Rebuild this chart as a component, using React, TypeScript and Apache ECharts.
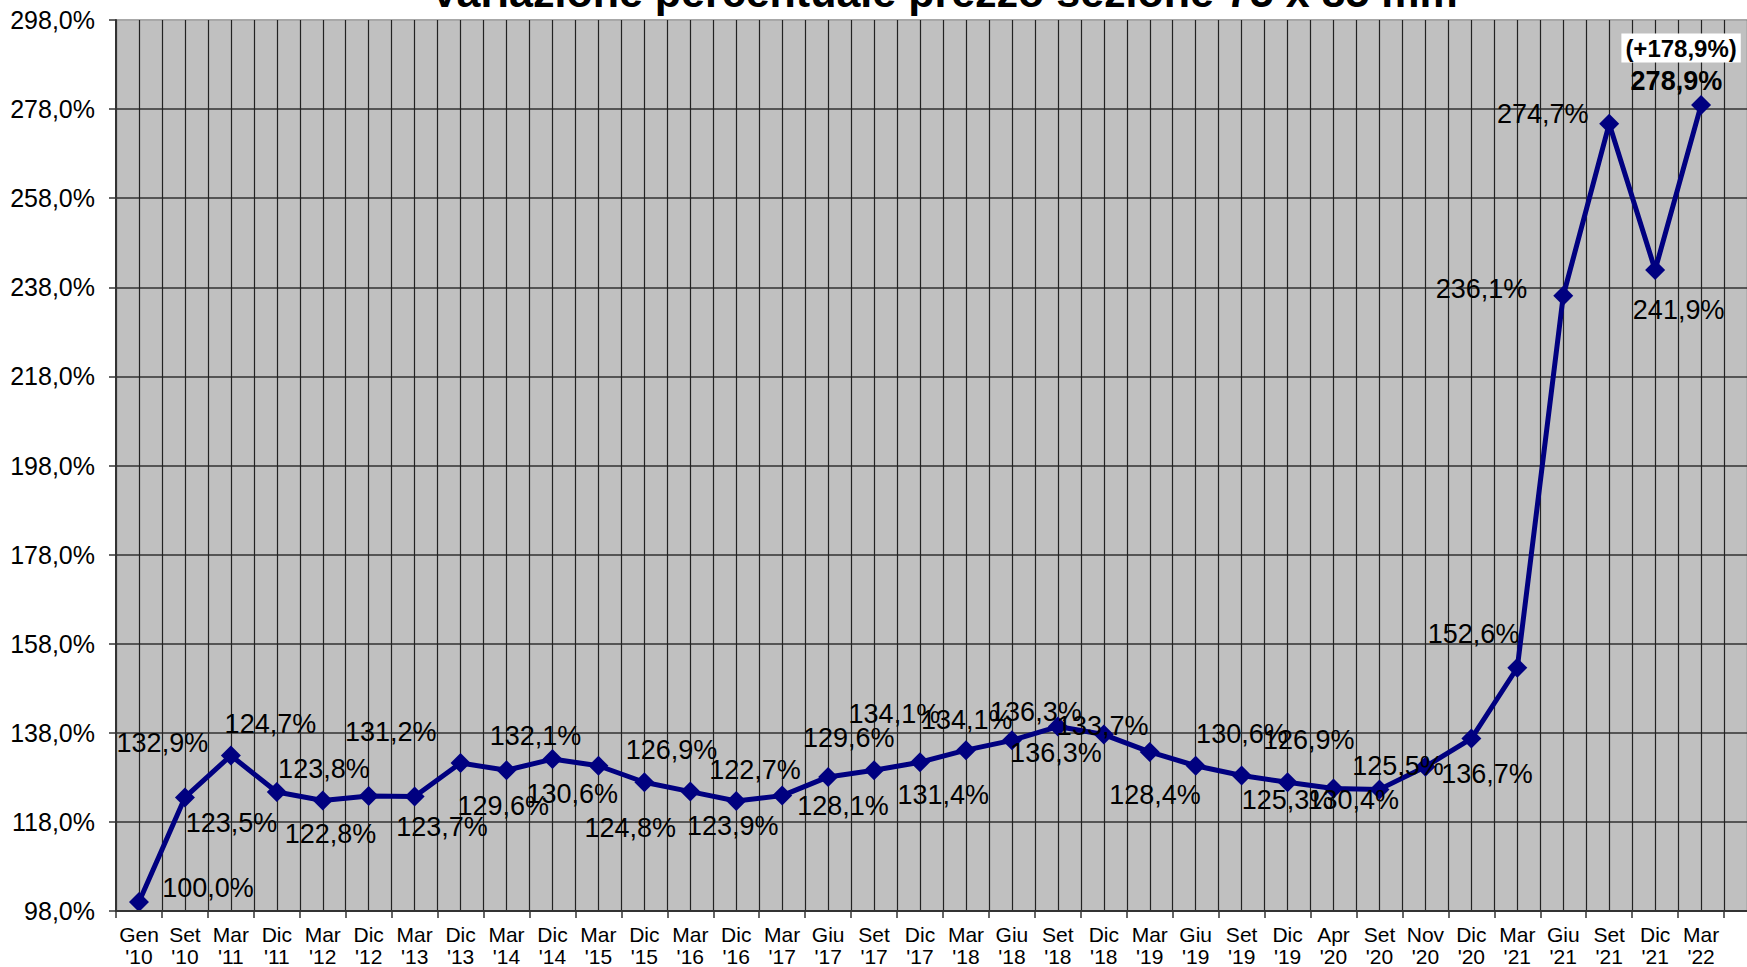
import React, { useEffect, useRef } from "react";
import * as echarts from "echarts";

const TITLE = "Variazione percentuale prezzo sezione 75 x 85 mm";

const categories = [
  "Gen\n'10", "Set\n'10", "Mar\n'11", "Dic\n'11", "Mar\n'12", "Dic\n'12", "Mar\n'13",
  "Dic\n'13", "Mar\n'14", "Dic\n'14", "Mar\n'15", "Dic\n'15", "Mar\n'16", "Dic\n'16",
  "Mar\n'17", "Giu\n'17", "Set\n'17", "Dic\n'17", "Mar\n'18", "Giu\n'18", "Set\n'18",
  "Dic\n'18", "Mar\n'19", "Giu\n'19", "Set\n'19", "Dic\n'19", "Apr\n'20", "Set\n'20",
  "Nov\n'20", "Dic\n'20", "Mar\n'21", "Giu\n'21", "Set\n'21", "Dic\n'21", "Mar\n'22",
];

const values = [
  100.0, 123.5, 132.9, 124.7, 122.8, 123.8, 123.7, 131.2, 129.6, 132.1,
  130.6, 126.9, 124.8, 122.7, 123.9, 128.1, 129.6, 131.4, 134.1, 136.3,
  139.4, 137.6, 133.7, 130.6, 128.4, 126.9, 125.5, 125.3, 130.4, 136.7,
  152.6, 236.1, 274.7, 241.9, 278.9,
];

const labelTexts = [
  "100,0%", "123,5%", "132,9%", "124,7%", "122,8%", "123,8%", "123,7%", "131,2%", "129,6%", "132,1%",
  "130,6%", "126,9%", "124,8%", "122,7%", "123,9%", "128,1%", "129,6%", "131,4%", "134,1%", "134,1%",
  "136,3%", "136,3%", "133,7%", "130,6%", "128,4%", "126,9%", "125,5%", "125,3%", "130,4%", "136,7%",
  "152,6%", "236,1%", "274,7%", "241,9%", "278,9%",
];

const yMin = 98;
const yMax = 298;
const yStep = 20;

// label placement (style): offset of each data label from its point, in px
const labelOffsets: [number, number][] = [
  [69, -14.5], [46.6, 25.3], [-68.5, -13], [-6.4, -68.5], [7.8, 33.4], [-44.8, -26.9],
  [27.4, 30.6], [-69.9, -30.6], [-3.2, 35.8], [-16.9, -23.3], [-26.1, 28], [27.2, -32],
  [-60, 36.7], [18.8, -30.5], [-49.5, 30.4], [14.9, 29.1], [-25.4, -32.2], [23.3, 32.6],
  [-71.6, -35.7], [-45.2, -20.3], [-22, -14.3], [-47.9, 18.9], [-47.1, -26.3], [46.2, -32.2],
  [-86.7, 19.3], [21.2, -42], [64.4, -22.6], [-91.9, 11], [-72.1, 33.8], [15.6, 35],
  [-43.7, -33.5], [-81.8, -6.7], [-66.5, -10], [23.5, 40.3], [-24.7, -23.6],
];

const FONT = '"Liberation Sans", Arial, Helvetica, sans-serif';

const fmtPct = (v: number) => v.toFixed(1).replace(".", ",") + "%";

export default function App() {
  const ref = useRef<HTMLDivElement>(null);

  useEffect(() => {
    if (!ref.current) return;
    const chart = echarts.init(ref.current, undefined, { renderer: "svg" });
    const last = values.length - 1;
    const gain = values[last] - values[0];
    const axisCats = [...categories, ""];
    const halfCats = axisCats.flatMap(() => ["", ""]);

    chart.setOption({
      animation: false,
      backgroundColor: "#ffffff",
      title: {
        text: TITLE,
        left: 939,
        top: -35,
        textAlign: "center",
        textStyle: { fontFamily: FONT, fontSize: 43, fontWeight: "bold", color: "#000" },
      },
      grid: {
        left: 116,
        top: 20,
        right: 20,
        bottom: 56,
        show: true,
        backgroundColor: "#C0C0C0",
        borderWidth: 0,
      },
      xAxis: [
        {
          type: "category",
          data: axisCats,
          boundaryGap: true,
          axisLine: { show: true, lineStyle: { color: "#333", width: 2 } },
          axisTick: { show: true, interval: 0, length: 7, lineStyle: { color: "#333", width: 1.5 } },
          axisLabel: {
            interval: 0,
            fontFamily: FONT,
            fontSize: 21,
            lineHeight: 22,
            color: "#000",
            margin: 12,
          },
          splitLine: { show: false },
          z: 5,
        },
        {
          type: "category",
          data: halfCats,
          boundaryGap: true,
          position: "bottom",
          axisLine: { show: false },
          axisTick: { show: false },
          axisLabel: { show: false },
          splitLine: { show: true, interval: 0, lineStyle: { color: "#222", width: 1.2 } },
        },
      ],
      yAxis: {
        type: "value",
        min: yMin,
        max: yMax,
        interval: yStep,
        axisLine: { show: true, lineStyle: { color: "#333", width: 2 } },
        axisTick: { show: true, length: 7, lineStyle: { color: "#333", width: 1.5 } },
        axisLabel: {
          formatter: (v: number) => fmtPct(v),
          fontFamily: FONT,
          fontSize: 25,
          color: "#000",
          margin: 21,
        },
        splitLine: {
          show: true,
          lineStyle: {
            color: ["#555", "#555", "#555", "#555", "#555", "#555", "#555", "#555", "#555", "#555", "#a8a8a8"],
            width: 2,
          },
        },
      },
      series: [
        {
          type: "line",
          xAxisIndex: 0,
          data: values.map((v, i) => ({
            value: v,
            label: {
              formatter: labelTexts[i],
              offset: labelOffsets[i],
              fontWeight: i === last ? "bold" : "normal",
            },
          })),
          symbol: "diamond",
          symbolSize: 20,
          lineStyle: { color: "#000080", width: 5 },
          itemStyle: { color: "#000080" },
          label: {
            show: true,
            position: "inside",
            align: "center",
            verticalAlign: "middle",
            fontFamily: FONT,
            fontSize: 27,
            color: "#000",
          },
          markPoint: {
            symbol: "rect",
            symbolSize: 0,
            data: [
              {
                coord: [axisCats[last], values[last]],
                label: {
                  show: true,
                  position: "inside",
                  formatter: "(+" + fmtPct(gain) + ")",
                  offset: [-20, -57],
                  fontFamily: FONT,
                  fontSize: 24,
                  fontWeight: "bold",
                  color: "#000",
                  backgroundColor: "#ffffff",
                  padding: [3, 4, 2, 4],
                },
              },
            ],
          },
          z: 3,
        },
      ],
    });

    return () => chart.dispose();
  }, []);

  return (
    <div
      style={{
        position: "fixed",
        left: 0,
        top: 0,
        width: 1747,
        height: 967,
        overflow: "hidden",
        background: "#fff",
      }}
    >
      <div ref={ref} style={{ width: 1790, height: 967 }} />
    </div>
  );
}
